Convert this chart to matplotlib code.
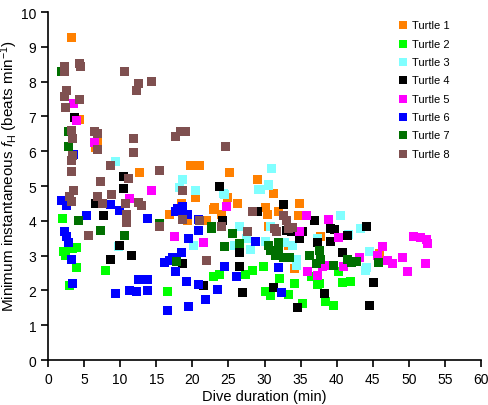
import numpy as np
import matplotlib
matplotlib.use('Agg')
import matplotlib.pyplot as plt

plt.rcParams['font.family'] = ['Liberation Sans', 'DejaVu Sans']
plt.rcParams['mathtext.fontset'] = 'custom'
plt.rcParams['mathtext.rm'] = 'Liberation Sans'
plt.rcParams['mathtext.it'] = 'Liberation Sans:italic'

# Datos: (duración de inmersión [min], fH mínima [latidos/min])
turtle1 = [(3.2, 9.27), (4.4, 6.9), (6.8, 6.3), (6.6, 6.1), (12.7, 5.4), (19.7, 5.58),
           (21.0, 5.58), (25.2, 5.4), (29.0, 5.2), (31.3, 4.8), (20.5, 4.66), (24.9, 4.68),
           (26.2, 4.5), (23.1, 4.37), (24.0, 4.17), (30.2, 4.37), (30.4, 4.17), (31.9, 4.28),
           (34.9, 4.49), (34.7, 4.14), (21.9, 4.0), (19.3, 4.0), (16.9, 4.17), (18.5, 4.49),
           (22.9, 4.34), (37.7, 3.54), (34.1, 2.62), (46.0, 3.05), (33.3, 3.3), (30.5, 3.83)]
turtle2 = [(2.0, 4.08), (2.2, 3.13), (2.45, 3.0), (3.4, 3.2), (3.9, 3.22), (4.0, 2.67),
           (3.0, 2.13), (8.0, 2.58), (16.5, 1.98), (22.9, 2.4), (23.8, 2.47), (27.3, 2.47),
           (28.3, 2.56), (29.8, 2.7), (32.1, 2.33), (34.2, 2.21), (30.2, 1.98), (30.8, 1.84),
           (33.3, 1.87), (35.3, 1.61), (36.5, 2.39), (37.6, 2.19), (38.4, 1.67), (39.5, 1.58),
           (40.2, 2.53), (40.8, 2.24), (41.9, 2.27), (37.3, 2.16)]
turtle3 = [(9.4, 5.7), (18.6, 5.2), (18.2, 4.95), (20.4, 4.86), (24.3, 4.8), (29.1, 4.9),
           (30.5, 5.03), (31.0, 5.5), (29.5, 4.89), (9.8, 3.25), (20.1, 3.28), (25.9, 3.28),
           (26.6, 3.83), (27.5, 3.48), (28.1, 3.19), (30.1, 3.42), (30.8, 3.85), (32.8, 3.39),
           (33.9, 3.28), (34.5, 2.9), (34.4, 2.73), (37.3, 3.48), (40.5, 4.14), (41.6, 3.62),
           (43.3, 3.77), (44.6, 3.13), (44.2, 2.67), (44.0, 2.56), (24.5, 4.77)]
turtle4 = [(3.7, 6.98), (10.5, 5.26), (10.4, 4.92), (23.8, 5.0), (6.6, 4.49), (7.7, 4.14),
           (9.9, 3.28), (11.5, 3.0), (8.6, 2.9), (18.7, 2.76), (24.2, 4.0), (29.0, 4.26),
           (26.5, 3.1), (26.5, 2.7), (27.0, 1.93), (21.5, 2.13), (32.6, 4.46), (36.9, 4.0),
           (39.1, 3.77), (39.7, 3.74), (44.2, 3.83), (35.3, 3.68), (33.1, 3.71), (33.8, 3.68),
           (34.9, 3.48), (37.4, 3.39), (39.1, 3.42), (41.5, 3.57), (31.9, 3.19), (40.8, 3.1),
           (31.2, 2.07), (38.3, 1.9), (34.6, 1.52), (45.1, 2.24), (44.5, 1.58)]
turtle5 = [(3.6, 7.36), (3.9, 6.88), (6.4, 6.24), (11.3, 4.63), (14.4, 4.86), (17.5, 3.54),
           (21.6, 3.39), (24.7, 4.42), (35.8, 4.14), (38.8, 4.03), (34.8, 3.68), (40.2, 3.51),
           (38.0, 2.7), (38.5, 2.72), (35.9, 2.53), (37.3, 2.44), (40.9, 2.7), (43.1, 2.96),
           (45.6, 2.99), (46.4, 3.25), (47.0, 2.85), (47.8, 2.76), (49.1, 2.96), (49.8, 2.53),
           (50.6, 3.54), (51.6, 3.51), (52.4, 3.45), (52.6, 3.34), (52.3, 2.76)]
turtle6 = [(3.6, 5.9), (1.9, 4.58), (2.6, 4.43), (8.7, 4.46), (9.9, 4.31), (5.4, 4.14),
           (13.8, 4.08), (17.6, 4.26), (18.6, 4.4), (18.7, 4.26), (19.3, 4.17), (20.8, 4.03),
           (19.4, 3.48), (20.8, 3.71), (28.7, 3.42), (2.3, 3.68), (2.6, 3.54), (2.9, 3.39),
           (3.3, 2.88), (3.4, 2.21), (9.4, 1.9), (11.3, 2.01), (12.3, 1.98), (12.6, 2.3),
           (13.8, 2.3), (13.8, 2.01), (16.2, 2.79), (16.9, 2.85), (17.3, 2.96), (18.5, 3.1),
           (17.7, 2.53), (19.2, 2.27), (20.9, 2.16), (23.5, 2.04), (21.8, 1.73), (19.4, 1.55),
           (16.6, 1.41), (24.5, 2.7), (26.1, 2.41), (31.9, 2.67), (32.3, 1.93), (18.0, 4.35)]
turtle7 = [(1.8, 8.28), (2.9, 6.56), (2.9, 6.13), (4.2, 4.0), (7.3, 3.71), (10.6, 3.57),
           (15.5, 3.92), (17.8, 2.82), (22.7, 3.85), (22.6, 3.77), (25.5, 3.65), (26.6, 3.34),
           (24.4, 3.25), (30.5, 3.28), (30.8, 3.16), (31.9, 3.39), (32.0, 3.15), (31.5, 2.99),
           (32.6, 2.96), (33.5, 2.96), (36.3, 2.99), (37.6, 3.16), (37.7, 2.9), (37.2, 2.76),
           (39.6, 2.73), (41.5, 2.88), (42.0, 2.79), (42.8, 2.82), (45.8, 2.79)]
turtle8 = [(2.3, 8.43), (2.3, 8.28), (4.4, 8.51), (4.5, 8.45), (10.6, 8.28), (12.5, 7.94),
           (12.2, 7.74), (14.3, 8.0), (2.6, 7.74), (2.3, 7.56), (4.4, 7.5), (2.45, 7.27),
           (3.3, 6.6), (3.4, 6.36), (6.5, 6.56), (6.9, 6.5), (6.9, 6.04), (11.9, 6.38),
           (11.8, 5.95), (17.6, 6.41), (18.4, 6.56), (19.1, 6.56), (24.6, 6.15), (8.7, 5.58),
           (3.2, 5.72), (3.4, 5.87), (3.2, 5.41), (7.3, 5.12), (11.1, 5.23), (15.5, 5.44),
           (8.8, 4.77), (3.6, 4.86), (3.0, 4.69), (3.3, 4.57), (6.8, 4.69), (7.6, 4.51),
           (10.8, 4.49), (12.5, 4.54), (12.9, 4.43), (10.9, 4.17), (10.9, 3.94), (5.6, 3.57),
           (18.7, 4.86), (18.7, 4.05), (21.0, 4.0), (24.1, 3.85), (22.0, 2.85), (15.5, 3.85),
           (28.3, 4.26), (27.7, 3.68), (31.4, 3.77), (32.6, 4.14), (33.1, 4.0), (33.3, 3.77),
           (33.9, 3.8), (31.6, 3.68)]

etiquetas = ['Turtle 1', 'Turtle 2', 'Turtle 3', 'Turtle 4',
             'Turtle 5', 'Turtle 6', 'Turtle 7', 'Turtle 8']
colores = ['#ff8000', '#00ff00', '#80ffff', '#000000',
           '#ff00ff', '#0000ff', '#007000', '#7f5050']
series = [turtle1, turtle2, turtle3, turtle4, turtle5, turtle6, turtle7, turtle8]

fig = plt.figure(figsize=(4.88, 4.06), dpi=100)
ax = fig.add_axes([0.0984, 0.1108, 0.8873, 0.857])

for datos, color, etiqueta in zip(series, colores, etiquetas):
    d = np.array(datos)
    ax.scatter(d[:, 0], d[:, 1], marker='s', s=42, color=color,
               edgecolors='none', label=etiqueta)

ax.set_xlim(0, 60)
ax.set_ylim(0, 10)
ax.set_xticks(np.arange(0, 61, 5))
ax.set_yticks(np.arange(0, 11, 1))
ax.spines['top'].set_visible(False)
ax.spines['right'].set_visible(False)
ax.spines['left'].set_linewidth(1.2)
ax.spines['bottom'].set_linewidth(1.2)
ax.tick_params(direction='out', length=5, width=1.2, labelsize=10)
ax.set_xlabel('Dive duration (min)', fontsize=10.5, labelpad=2)
ax.set_ylabel(r'Minimum instantaneous $\mathit{f}_\mathrm{H}$ (beats min$^{-1}$)', fontsize=11)
ax.yaxis.set_label_coords(-0.064, 0.532)

ax.legend(loc='upper right', bbox_to_anchor=(0.95, 1.005), frameon=False,
          fontsize=8, handletextpad=0.3, labelspacing=0.75, handlelength=1.0,
          markerscale=0.9)

fig.savefig('out.png', dpi=100)
